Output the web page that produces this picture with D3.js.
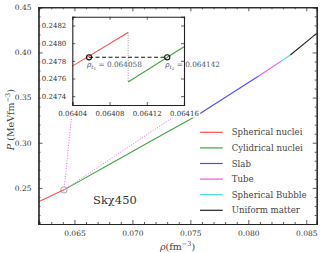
<!DOCTYPE html>
<html><head><meta charset="utf-8">
<script src="https://cdn.jsdelivr.net/npm/d3@7"></script>
<style>
body{margin:0;background:#fff;}
svg text{font-family:"DejaVu Serif",serif !important;}
</style></head><body>
<svg id="c" width="323" height="253"></svg>
<script>
// ---- data ----
const seriesNames = ["Spherical nuclei","Cylidrical nuclei","Slab","Tube","Spherical Bubble","Uniform matter"];
const seriesColors = ["#ff4d4d","#3fa63f","#4d4dff","#ec55ec","#3fdcdc","#222222"];
const rhoSph = [0.0619, 0.0641];           const pSph = [0.2347, 0.2478];
const rhoCyl = [0.0641, 0.0680, 0.0720, 0.0755]; const pCyl = [0.2478, 0.2760, 0.3046, 0.3296];
const rhoSlab = [0.0755, 0.0809];          const pSlab = [0.3296, 0.3739];
const rhoTube = [0.0809, 0.0829];          const pTube = [0.3739, 0.3909];
const rhoBub = [0.0829, 0.08363];          const pBub = [0.3909, 0.3972];
const rhoUni = [0.08363, 0.0859];          const pUni = [0.3972, 0.4212];
const insetRhoSph = [0.06404, 0.06410];    const insetPSph = [0.24774, 0.24812];
const insetRhoCyl = [0.06410, 0.06416];    const insetPCyl = [0.24756, 0.24796];
const rhoT = [0.064058, 0.064142];         const pT = 0.24784;
const tLabels = ["0.064058", "0.064142"];
const xTicks = [0.065, 0.070, 0.075, 0.080, 0.085];
const yTicks = [0.25, 0.30, 0.35, 0.40, 0.45];
const insetXTicks = [0.06404, 0.06408, 0.06412, 0.06416];
const insetYTicks = [0.2474, 0.2476, 0.2478, 0.2480, 0.2482];
const markRho = 0.0641, markP = 0.2478;

const FONT = '"DejaVu Serif",serif';
const svg = d3.select("#c").style("font-family", FONT);
const L = 38.5, R = 316.7, T = 7.3, B = 224;
const x = d3.scaleLinear().domain([0.0619, 0.0859]).range([L, R]);
const y = d3.scaleLinear().domain([0.21, 0.45]).range([B, T]);

const series = [[rhoSph,pSph],[rhoCyl,pCyl],[rhoSlab,pSlab],[rhoTube,pTube],[rhoBub,pBub],[rhoUni,pUni]];
const line = (xs, ys) => d3.line().x(d=>xs(d[0])).y(d=>ys(d[1]));

function axes(g, xs, ys, xt, yt, xminor, yminor, xf, yf, fs, major, minor){
  const gb = g.append("g").attr("transform",`translate(0,${ys.range()[0]})`);
  gb.call(d3.axisBottom(xs).tickValues(xt).tickSize(-major).tickFormat(xf).tickPadding(major+3));
  const gt = g.append("g").attr("transform",`translate(0,${ys.range()[1]})`);
  gt.call(d3.axisTop(xs).tickValues(xt).tickSize(-major).tickFormat(""));
  const gl = g.append("g").attr("transform",`translate(${xs.range()[0]},0)`);
  gl.call(d3.axisLeft(ys).tickValues(yt).tickSize(-major).tickFormat(yf).tickPadding(major+3));
  const gr = g.append("g").attr("transform",`translate(${xs.range()[1]},0)`);
  gr.call(d3.axisRight(ys).tickValues(yt).tickSize(-major).tickFormat(""));
  if (xminor){
    g.append("g").attr("transform",`translate(0,${ys.range()[0]})`).call(d3.axisBottom(xs).tickValues(xminor).tickSize(-minor).tickFormat(""));
    g.append("g").attr("transform",`translate(0,${ys.range()[1]})`).call(d3.axisTop(xs).tickValues(xminor).tickSize(-minor).tickFormat(""));
  }
  if (yminor){
    g.append("g").attr("transform",`translate(${xs.range()[0]},0)`).call(d3.axisLeft(ys).tickValues(yminor).tickSize(-minor).tickFormat(""));
    g.append("g").attr("transform",`translate(${xs.range()[1]},0)`).call(d3.axisRight(ys).tickValues(yminor).tickSize(-minor).tickFormat(""));
  }
  g.selectAll("g").attr("font-family", null);
  g.selectAll(".domain").attr("stroke","#222").attr("stroke-width",1.1);
  g.selectAll(".tick line").attr("stroke","#333").attr("stroke-width",0.8);
  g.selectAll(".tick text").attr("font-size",fs).style("font-family",FONT).attr("fill","#333");
}

const main = svg.append("g");
main.append("rect").attr("x",L).attr("y",T).attr("width",R-L).attr("height",B-T).attr("fill","#fff");
const xMinor = d3.range(62, 86).map(v=>v/1000).filter(v=>!xTicks.some(t=>Math.abs(t-v)<1e-9));
const yMinor = d3.range(21, 46).map(v=>v/100).filter(v=>!yTicks.some(t=>Math.abs(t-v)<1e-9));

series.forEach((s,i)=>{
  main.append("path").datum(s[0].map((r,j)=>[r,s[1][j]]))
    .attr("d", line(x,y)).attr("fill","none").attr("stroke",seriesColors[i]).attr("stroke-width",1.1);
});
axes(main, x, y, xTicks, yTicks, xMinor, yMinor, d3.format(".3f"), d3.format(".2f"), 7.5, 4, 2);

const iL = 72.3, iR = 184, iT = 16.7, iB = 105;
const xi = d3.scaleLinear().domain([0.06404, 0.06416]).range([iL, iR]);
const yi = d3.scaleLinear().domain([0.2473, 0.2483]).range([iB, iT]);

const mx = x(markRho), my = y(markP);
[[iL, iB+5],[iR, iB+5]].forEach(p=>{
  main.append("line").attr("x1",mx).attr("y1",my).attr("x2",p[0]).attr("y2",p[1])
    .attr("stroke","#ee66ee").attr("stroke-width",1).attr("stroke-dasharray","1,1.6");
});
main.append("circle").attr("cx",mx).attr("cy",my).attr("r",3.2).attr("fill","none").attr("stroke","#999").attr("stroke-width",0.9);

const ins = svg.append("g");
ins.append("rect").attr("x",iL).attr("y",iT).attr("width",iR-iL).attr("height",iB-iT).attr("fill","#fff");
ins.append("path").datum(insetRhoSph.map((r,j)=>[r,insetPSph[j]])).attr("d",line(xi,yi)).attr("fill","none").attr("stroke",seriesColors[0]).attr("stroke-width",1.1);
ins.append("path").datum(insetRhoCyl.map((r,j)=>[r,insetPCyl[j]])).attr("d",line(xi,yi)).attr("fill","none").attr("stroke",seriesColors[1]).attr("stroke-width",1.1);
ins.append("line").attr("x1",xi(insetRhoSph[1])).attr("x2",xi(insetRhoCyl[0]))
  .attr("y1",yi(insetPSph[1])).attr("y2",yi(insetPCyl[0])).attr("stroke","#777").attr("stroke-width",0.8).attr("stroke-dasharray","1,1.5");
ins.append("line").attr("x1",xi(rhoT[0])).attr("x2",xi(rhoT[1])).attr("y1",yi(pT)).attr("y2",yi(pT))
  .attr("stroke","#111").attr("stroke-width",1.1).attr("stroke-dasharray","4,2.5");
rhoT.forEach((r,i)=>{
  ins.append("circle").attr("cx",xi(r)).attr("cy",yi(pT)).attr("r",2.6).attr("fill","none").attr("stroke","#111").attr("stroke-width",1.1);
  const t = ins.append("text").attr("x",xi(r)-2).attr("y",yi(pT)+10).attr("font-size",7.3).attr("fill","#555");
  t.append("tspan").attr("font-style","italic").text("ρ");
  t.append("tspan").attr("font-size",5.5).attr("dy",1.5).attr("font-style","italic").text("t");
  t.append("tspan").attr("font-size",4.2).attr("dy",1).text(String(i+1));
  t.append("tspan").attr("dy",-2.5).text(" = " + tLabels[i]);
});
axes(ins, xi, yi, insetXTicks, insetYTicks, null, null, d3.format(".5f"), d3.format(".4f"), 7, 3, 0);
ins.selectAll(".tick text").attr("stroke","#fff").attr("stroke-width",3).attr("paint-order","stroke");

svg.append("text").attr("x",93).attr("y",204).attr("font-size",11.5).attr("fill","#333").text("Skχ450");

const lg = svg.append("g");
seriesNames.forEach((n,i)=>{
  const yy = 132.3 + i*15.6;
  lg.append("line").attr("x1",200).attr("x2",222.7).attr("y1",yy).attr("y2",yy).attr("stroke",seriesColors[i]).attr("stroke-width",1.2);
  lg.append("text").attr("x",231.7).attr("y",yy).attr("dy","0.35em").attr("font-size",8.6).attr("fill","#444").text(n);
});

const xl = svg.append("text").attr("x",(L+R)/2).attr("y",250).attr("text-anchor","middle").attr("font-size",9.5).attr("fill","#444");
xl.append("tspan").attr("font-style","italic").text("ρ");
xl.append("tspan").text("(fm");
xl.append("tspan").attr("font-size",6.5).attr("dy",-4).text("−3");
xl.append("tspan").attr("dy",4).text(")");
const yl = svg.append("text").attr("transform",`translate(14,${(T+B)/2+4}) rotate(-90)`).attr("text-anchor","middle").attr("font-size",9.5).attr("fill","#444");
yl.append("tspan").attr("font-style","italic").text("P");
yl.append("tspan").text(" (MeVfm");
yl.append("tspan").attr("font-size",6.5).attr("dy",-4).text("−3");
yl.append("tspan").attr("dy",4).text(")");
</script></body></html>
